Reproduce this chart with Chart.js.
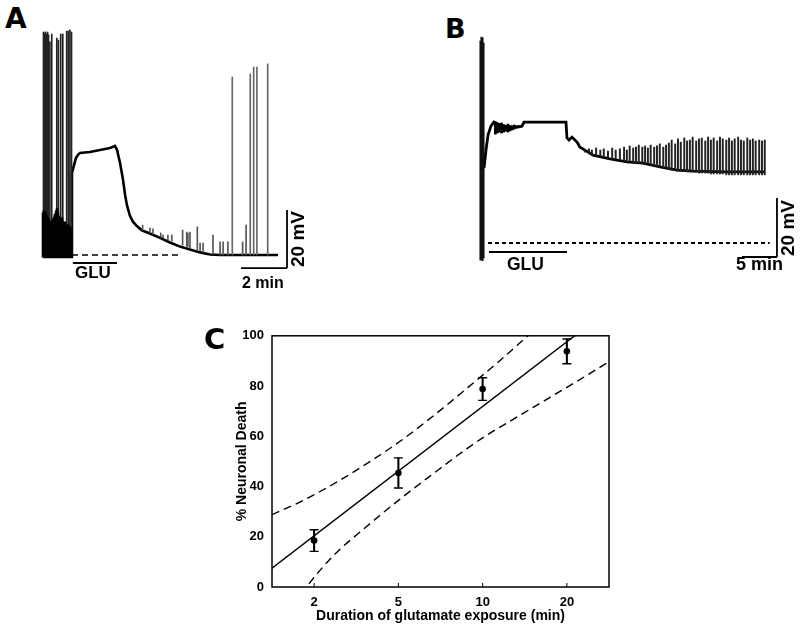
<!DOCTYPE html>
<html><head><meta charset="utf-8">
<script src="https://cdn.jsdelivr.net/npm/chart.js@4.4.1/dist/chart.umd.min.js"></script>
<style>
html,body{margin:0;padding:0;background:#fff;}
body{width:800px;height:630px;position:relative;overflow:hidden;font-family:'Liberation Sans',Arial,sans-serif;}
canvas{position:absolute;}
.t{position:absolute;font-weight:bold;color:#000;white-space:nowrap;line-height:1;}
.pl{font-family:'DejaVu Sans','Liberation Sans',sans-serif;font-size:28px;font-weight:900;}
.rot{transform-origin:0 0;transform:rotate(-90deg);}
</style></head>
<body>
<canvas id="cA" width="264" height="254" style="left:32px;top:20px;width:264px;height:254px"></canvas>
<canvas id="cB" width="315" height="245" style="left:470px;top:25px;width:315px;height:245px"></canvas>
<canvas id="cC" width="420" height="310" style="left:200px;top:320px;width:420px;height:310px"></canvas>

<div class="t pl" style="left:5px;top:5px;">A</div>
<div class="t pl" style="left:445px;top:15px;font-size:27px;">B</div>
<div class="t pl" style="left:204px;top:325px;font-size:29px;">C</div>
<div class="t" style="left:75px;top:264px;font-size:17px;">GLU</div>
<div class="t" style="left:507px;top:256px;font-size:17.5px;">GLU</div>
<div class="t" style="left:242px;top:275px;font-size:16px;">2 min</div>
<div class="t" style="left:736px;top:255px;font-size:18px;">5 min</div>
<div class="t rot" style="left:287.5px;top:267px;font-size:19px;">20 mV</div>
<div class="t rot" style="left:777.5px;top:256px;font-size:19px;">20 mV</div>

<script>
// ---------------- Panel A (time in min, potential in mV relative to baseline) ----------------
const aBaseT = [0, 1.22, 1.26, 1.35, 1.43, 1.52, 1.61, 2.04, 2.48, 2.91, 3.13, 3.22, 3.35, 3.48, 3.57, 3.65, 3.78, 3.91, 4.09, 4.30, 4.65, 5.09, 5.52, 5.96, 6.39, 6.83, 7.26, 7.70, 10.22];
const aBaseV = [-0.7, -0.7, 28.3, 31.0, 33.4, 34.5, 35.2, 35.5, 36.2, 36.9, 37.6, 36.2, 31.7, 25.9, 20.7, 17.2, 13.5, 11.5, 9.9, 8.5, 7.4, 5.9, 4.3, 2.9, 1.9, 0.9, 0.2, 0, 0];
// dense burst before glutamate
const aBurstT = [0.00,0.04,0.09,0.13,0.17,0.22,0.26,0.30,0.35,0.39,0.43,0.48,0.52,0.57,0.61,0.65,0.70,0.74,0.78,0.83,0.87,0.91,0.96,1.00,1.04,1.09,1.13,1.17,1.22];
const aBurstHi = [14.5,15.2,14.8,14.0,13.5,12.8,12.0,11.4,10.9,11.7,12.4,13.1,14.1,15.2,16.0,14.6,13.4,12.5,11.8,12.9,11.6,10.7,11.4,10.2,9.6,10.5,9.1,9.8,8.9];
const aBurstLo = -0.7;
// tall action potentials in the burst
const aTallT = [0.02,0.07,0.11,0.15,0.20,0.24,0.30,0.38,0.60,0.67,0.77,0.86,1.03,1.10,1.17,1.24];
const aTallHi = [76.9,76.5,76.9,76.2,76.9,75.9,73.5,76.2,74.8,74.1,76.2,76.2,77.2,77.2,77.6,76.9];
// small events on the repolarisation
const aSmallT = [4.33,4.65,4.78,5.12,5.22,5.43,5.60,6.07,6.25,6.30,6.39,6.71,6.83,6.96,7.39,7.70,7.83,8.04,8.68,8.83];
const aSmallLo = [8.6,7.6,7.2,6.2,5.9,5.2,4.8,3.4,3.1,2.8,2.4,1.7,1.4,1.0,0.3,0,0,0,0,0];
const aSmallHi = [10.3,9.3,9.0,7.6,6.9,6.9,6.9,8.6,7.9,7.6,7.9,9.7,4.1,4.1,6.9,4.5,4.5,4.5,4.5,10.3];
// late recovered spikes
const aLateT = [8.23,9.01,9.16,9.30,9.77];
const aLateHi = [61.4,62.4,64.8,64.8,65.9];
const aRestT = [1.26, 5.96];          // dashed resting level
const aGluT = [1.30, 3.22];           // glutamate application
const aScaleMin = [8.61, 10.61];      // 2 min bar
const aScaleMv = [-4.5, 15.5];        // 20 mV bar

// ---------------- Panel B ----------------
const bBaseT = [0.29, 0.57, 0.86, 1.29, 1.71, 2.29, 3.29, 4.71, 5.71, 6.0, 9.0, 12.0, 12.14, 12.43, 12.86, 13.57, 14.0, 14.71, 15.86, 18.29, 20.71, 23.0, 25.43, 27.86, 30.14, 35.0, 40.43];
const bBaseV = [25.4, 31.5, 36.6, 39.7, 41.0, 40.3, 39.6, 39.3, 39.6, 41.0, 41.0, 41.0, 35.6, 34.9, 35.9, 34.2, 32.5, 31.5, 29.8, 28.5, 27.5, 27.1, 25.8, 24.7, 24.4, 24.1, 24.1];
const bInitT = [-0.21, -0.07, 0.07, 0.21];
const bInitLo = [-5.8, -5.4, -6.0, -5.1];
const bInitHi = [68.5, 69.8, 69.5, 67.8];
const bOscT = [1.9,2.2,2.5,2.8,3.1,3.4,3.7,4.0,4.3,4.6,4.9,5.2,5.5];
const bOscLo = [36.9,37.3,37.6,37.3,37.6,37.9,37.6,38.0,38.3,38.6,38.9,39.0,39.2];
const bOscHi = [41.0,40.7,40.3,40.7,40.0,39.7,40.3,39.7,39.3,40.0,39.7,39.3,39.7];
const bSpikeT = [14.7,15.3,15.7,16.3,16.9,17.4,18.0,18.6,19.1,19.7,20.3,20.7,21.1,21.6,22.0,22.4,22.9,23.3,23.7,24.1,24.6,25.0,25.4,25.9,26.3,26.7,27.1,27.6,28.0,28.4,28.9,29.3,29.7,30.1,30.6,31.0,31.4,31.9,32.3,32.7,33.1,33.6,34.0,34.4,34.9,35.3,35.7,36.1,36.6,37.0,37.4,37.9,38.3,38.7,39.1,39.6,40.0,40.4];
const bSpikeHi = [31.5,31.9,31.5,32.2,31.5,31.9,31.2,32.2,31.5,31.9,32.5,31.5,32.9,32.2,32.5,33.2,32.5,32.9,32.2,33.2,32.5,32.9,33.6,32.5,33.2,33.9,34.9,33.6,35.3,34.2,35.6,34.6,34.9,35.9,34.6,35.3,35.6,34.6,35.9,34.9,35.6,34.6,35.9,35.3,34.9,35.6,34.6,35.3,35.9,34.9,34.6,35.6,34.9,35.3,34.6,34.9,34.6,34.9];
const bSpikeLo = [30.8,30.2,29.8,29.5,29.2,29.2,28.8,28.5,28.5,28.1,27.8,27.5,27.5,27.1,27.1,27.1,27.1,26.8,26.8,26.4,26.4,26.1,25.8,25.4,25.4,25.1,24.7,24.7,24.4,24.4,24.4,24.1,24.1,24.1,24.1,23.7,23.7,23.7,23.7,23.4,23.4,23.4,23.4,23.4,23.1,23.1,23.1,23.1,23.1,23.1,23.1,23.1,23.1,23.1,23.1,23.1,23.1,23.1];
const bRestT = [0.86, 41.1];
const bGluT = [1.0, 12.14];
const bScaleMin = [37.14, 42.14];     // 5 min bar
const bScaleMv = [-4.75, 15.25];      // 20 mV bar

// ---------------- Panel C ----------------
const durationLabels = ['2', '5', '10', '20'];
const durationPos = [1, 2, 3, 4];
const deathMean = [18.5, 45.4, 78.8, 93.8];
const deathSem = [4.3, 6.0, 4.5, 4.9];
const fitX = [0.5, 4.5];
const fitY = [7.5, 110.5];
const ciUpperX = [0.5, 0.83, 1.23, 1.62, 2.02, 2.41, 2.81, 3.2, 3.52, 3.8];
const ciUpperY = [28.8, 33.8, 41.0, 49.0, 58.0, 68.0, 79.0, 90.0, 99.5, 108.0];
const ciLowerX = [0.85, 0.91, 1.23, 1.62, 2.02, 2.41, 2.81, 3.03, 3.4, 3.8, 4.2, 4.5];
const ciLowerY = [-3, 0, 12.5, 24.0, 35.0, 45.0, 55.0, 60.0, 67.5, 75.5, 83.5, 89.7];

Chart.defaults.font.family = "'Liberation Sans', Arial, sans-serif";
Chart.defaults.animation = false;

const pts = (xs, ys) => xs.map((x, i) => ({x, y: ys[i]}));
const bars = (xs, lo, hi) => xs.map((x, i) => ({x, y: [Array.isArray(lo) ? lo[i] : lo, hi[i]]}));
const lineDs = (data, w, extra) => Object.assign({type: 'line', data, borderColor: '#000', borderWidth: w, pointRadius: 0, tension: 0, fill: false}, extra || {});
const barDs = (data, th, color) => ({type: 'bar', data, backgroundColor: color, borderWidth: 0, barThickness: th, grouped: false});

function traceChart(id, xr, yr, datasets) {
  return new Chart(document.getElementById(id), {
    type: 'scatter',
    data: {datasets},
    options: {
      responsive: false, animation: false,
      layout: {padding: 0},
      plugins: {legend: {display: false}, tooltip: {enabled: false}},
      scales: {
        x: {type: 'linear', display: false, min: xr[0], max: xr[1], offset: false},
        y: {type: 'linear', display: false, min: yr[0], max: yr[1]}
      }
    }
  });
}

traceChart('cA', [-0.478, 11.0], [-6.55, 81.03], [
  barDs(bars(aBurstT, aBurstLo, aBurstHi), 2, '#000'),
  barDs(bars(aTallT, aBurstLo, aTallHi), 1, '#222'),
  barDs(bars(aSmallT, aSmallLo, aSmallHi), 1, '#555'),
  barDs(bars(aLateT, aLateT.map(() => 0), aLateHi), 1, '#666'),
  lineDs(pts(aBaseT, aBaseV), 2.6),
  lineDs(pts(aRestT, aRestT.map(() => 0)), 1.3, {borderDash: [6, 4]}),
  lineDs(pts(aGluT, aGluT.map(() => -2.8)), 2),
  lineDs(pts(aScaleMin, [aScaleMv[0], aScaleMv[0]]), 1.8),
  lineDs(pts([aScaleMin[1], aScaleMin[1]], aScaleMv), 1.8)
]);

traceChart('cB', [-1.714, 43.29], [-9.15, 73.9], [
  barDs(bars(bInitT, bInitLo, bInitHi), 1.5, '#111'),
  barDs(bars(bOscT, bOscLo, bOscHi), 2, '#000'),
  barDs(bars(bSpikeT, bSpikeLo, bSpikeHi), 1.3, '#222'),
  lineDs(pts(bBaseT, bBaseV), 2.8),
  lineDs(pts(bRestT, bRestT.map(() => 0)), 1.8, {borderDash: [4, 3]}),
  lineDs(pts(bGluT, bGluT.map(() => -3.05)), 2),
  lineDs(pts(bScaleMin, [bScaleMv[0], bScaleMv[0]]), 1.8),
  lineDs(pts([bScaleMin[1], bScaleMin[1]], bScaleMv), 1.8)
]);

const framePlugin = {
  id: 'frame',
  afterDraw(chart) {
    const {ctx, chartArea: a, scales: {x}} = chart;
    ctx.save();
    ctx.strokeStyle = '#000';
    ctx.lineWidth = 1.5;
    ctx.strokeRect(a.left, a.top, a.right - a.left, a.bottom - a.top);
    ctx.lineWidth = 1;
    x.ticks.forEach(t => {
      const px = x.getPixelForValue(t.value);
      ctx.beginPath(); ctx.moveTo(px, a.bottom); ctx.lineTo(px, a.bottom - 4); ctx.stroke();
    });
    ctx.restore();
  }
};

new Chart(document.getElementById('cC'), {
  type: 'scatter',
  data: {datasets: [
    lineDs(pts(fitX, fitY), 1.4),
    lineDs(pts(ciUpperX, ciUpperY), 1.4, {borderDash: [8, 5], cubicInterpolationMode: 'monotone'}),
    lineDs(pts(ciLowerX, ciLowerY), 1.4, {borderDash: [8, 5], cubicInterpolationMode: 'monotone'}),
    barDs(durationPos.map((p, i) => ({x: p, y: [deathMean[i] - deathSem[i], deathMean[i] + deathSem[i]]})), 1.4, '#000'),
    {type: 'scatter', data: durationPos.map((p, i) => ({x: p, y: deathMean[i] + deathSem[i]})).concat(durationPos.map((p, i) => ({x: p, y: deathMean[i] - deathSem[i]}))),
     pointStyle: 'line', pointRadius: 4.5, borderWidth: 1.4, borderColor: '#000', backgroundColor: '#000'},
    {type: 'scatter', data: pts(durationPos, deathMean), pointRadius: 3.3, backgroundColor: '#000', borderColor: '#000', borderWidth: 0}
  ]},
  options: {
    responsive: false, animation: false,
    layout: {padding: {top: 11, right: 11, left: 0, bottom: 0}},
    plugins: {legend: {display: false}, tooltip: {enabled: false}},
    scales: {
      x: {
        type: 'linear', min: 0.5, max: 4.5, offset: false,
        grid: {display: false, drawTicks: false}, border: {display: false},
        afterBuildTicks: s => { s.ticks = durationPos.map(v => ({value: v})); },
        afterFit: s => { s.height = 43; },
        ticks: {padding: 8, color: '#000', font: {size: 13, weight: 'bold'}, maxRotation: 0,
                callback: v => durationLabels[durationPos.indexOf(v)]},
        title: {display: true, text: 'Duration of glutamate exposure (min)', color: '#000',
                font: {size: 14, weight: 'bold'}, padding: {top: 0, bottom: 5.6}}
      },
      y: {
        type: 'linear', min: 0, max: 100,
        grid: {display: false, drawTicks: false}, border: {display: false},
        afterFit: s => { s.width = 72; },
        ticks: {stepSize: 20, padding: 8, color: '#000', font: {size: 13, weight: 'bold'}},
        title: {display: true, text: '% Neuronal Death', color: '#000',
                font: {size: 14, weight: 'bold'}, padding: {top: 33.6, bottom: 0}}
      }
    }
  },
  plugins: [framePlugin]
});
</script>
</body></html>
